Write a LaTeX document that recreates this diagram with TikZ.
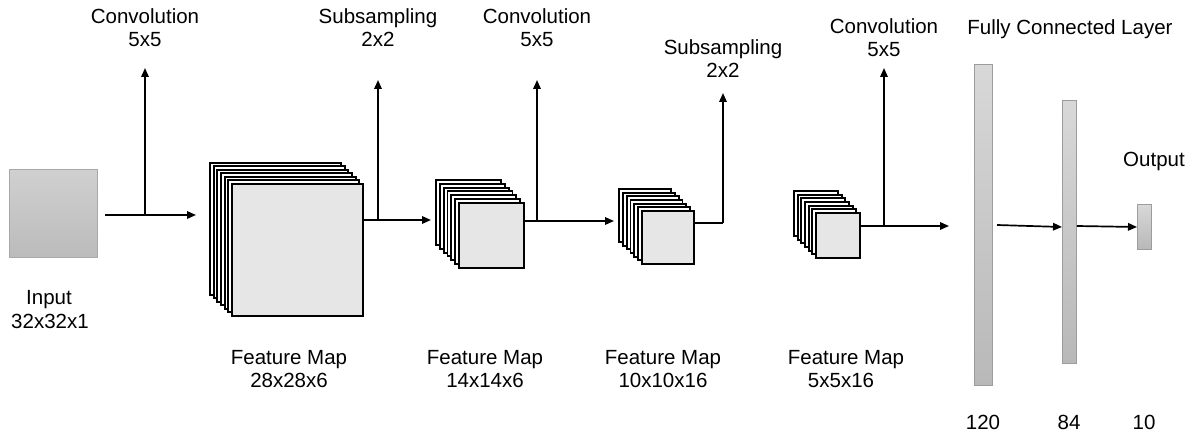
\documentclass[tikz,border=0pt]{standalone}
\usepackage{fontspec}
\setmainfont{Liberation Sans}
\usetikzlibrary{arrows.meta}
\definecolor{frontgray}{HTML}{E6E6E6}
\definecolor{intop}{HTML}{D0D0D0}
\definecolor{inbot}{HTML}{BBBBBB}
\definecolor{inborder}{HTML}{A8A8A8}
\definecolor{fctop}{HTML}{D8D8D8}
\definecolor{fcbot}{HTML}{B8B8B8}
\definecolor{fcborder}{HTML}{9C9C9C}
\tikzset{
  lbl/.style={anchor=base, inner sep=0pt, font=\fontsize{20.5}{23}\selectfont},
  fmback/.style={draw=black, line width=1.9pt, fill=white, inner sep=0pt, anchor=north west},
  fmfront/.style={draw=black, line width=1.9pt, fill=frontgray, inner sep=0pt, anchor=north west},
  inbox/.style={draw=inborder, line width=0.8pt, top color=intop, bottom color=inbot, inner sep=0pt, anchor=north west},
  fcbar/.style={draw=fcborder, line width=0.8pt, top color=fctop, bottom color=fcbot, inner sep=0pt, anchor=north west},
  conn/.style={line width=1.7pt, -{Triangle[length=9pt,width=7.5pt]}},
  plainline/.style={line width=1.7pt},
}
\newcommand{\fmstack}[7]{%
  \foreach \i in {0,...,5} {
    \pgfmathsetmacro\xx{#2+(#4-#2)*\i/6}
    \pgfmathsetmacro\yy{#3+(#5-#3)*\i/6}
    \node[fmback, minimum width=#6pt, minimum height=#7pt] (#1-\i) at (\xx,\yy) {};
  }
  \node[fmfront, minimum width=#6pt, minimum height=#7pt] (#1) at (#4,#5) {};
}
\begin{document}
\begin{tikzpicture}[x=1pt,y=-1pt]
\useasboundingbox[fill=white] (0,0) rectangle (1199,435);

% input
\node[inbox, minimum width=88pt, minimum height=88pt] (in) at (9,169) {};
\node[lbl] (inl1) at (49,305) {Input};
\node[lbl] (inl2) at (50,329) {32x32x1};

% feature map stacks
\fmstack{fm1}{209}{162}{231}{183}{131}{132}
\fmstack{fm2}{435}{179}{458}{202}{65}{65}
\fmstack{fm3}{618}{188}{641}{210}{52}{53}
\fmstack{fm4}{793}{190}{815}{212}{44}{45}

% fully connected bars
\node[fcbar, minimum width=18pt, minimum height=321pt] (fc1) at (974,64) {};
\node[fcbar, minimum width=14pt, minimum height=263pt] (fc2) at (1062,100) {};
\node[fcbar, minimum width=14pt, minimum height=45pt] (out) at (1137,204) {};

% connectors: input -> fm1
\coordinate (s0) at (105,215);
\coordinate (e0) at (196,215);
\coordinate (b0) at (145,215);
\coordinate (t0) at (145,68);
\draw[conn] (s0) -- (e0);
\draw[conn] (b0) -- (t0);

% fm1 -> fm2
\coordinate (s1) at (fm1.east |- 0,220);
\coordinate (e1) at (431,220);
\coordinate (b1) at (378,220);
\coordinate (t1) at (378,80);
\draw[conn] (s1) -- (e1);
\draw[conn] (b1) -- (t1);

% fm2 -> fm3
\coordinate (s2) at (fm2.east |- 0,221);
\coordinate (e2) at (614,221);
\coordinate (b2) at (537,221);
\coordinate (t2) at (537,80);
\draw[conn] (s2) -- (e2);
\draw[conn] (b2) -- (t2);

% fm3 -> fm4
\coordinate (s3) at (fm3.east |- 0,223);
\coordinate (e3) at (723,223);
\coordinate (t3) at (723,93);
\draw[plainline] (s3) -- (e3);
\draw[conn] (e3) -- (t3);

% fm4 -> fc
\coordinate (s4) at (fm4.east |- 0,226);
\coordinate (e4) at (949,226);
\coordinate (b4) at (884,226);
\coordinate (t4) at (884,68);
\draw[conn] (s4) -- (e4);
\draw[conn] (b4) -- (t4);

% fc connectors
\coordinate (s5) at (997,225);
\coordinate (e5) at (fc2.west |- 0,227);
\draw[conn] (s5) -- (e5);
\coordinate (s6) at (fc2.east |- 0,226);
\coordinate (e6) at (out.west |- 0,227);
\draw[conn] (s6) -- (e6);

% top labels
\node[lbl] (c1a) at (145,24) {Convolution};
\node[lbl] (c1b) at (145,47) {5x5};
\node[lbl] (s1a) at (378,24) {Subsampling};
\node[lbl] (s1b) at (378,47) {2x2};
\node[lbl] (c2a) at (537,24) {Convolution};
\node[lbl] (c2b) at (537,47) {5x5};
\node[lbl] (s2a) at (723,55) {Subsampling};
\node[lbl] (s2b) at (723,78) {2x2};
\node[lbl] (c3a) at (884,34) {Convolution};
\node[lbl] (c3b) at (884,57) {5x5};
\node[lbl] (fcl) at (1070,35) {Fully Connected Layer};
\node[lbl] (outl) at (1154,167) {Output};

% bottom labels
\node[lbl] (f1a) at (289,364) {Feature Map};
\node[lbl] (f1b) at (289,388) {28x28x6};
\node[lbl] (f2a) at (485,364) {Feature Map};
\node[lbl] (f2b) at (485,388) {14x14x6};
\node[lbl] (f3a) at (663,364) {Feature Map};
\node[lbl] (f3b) at (663,388) {10x10x16};
\node[lbl] (f4a) at (846,364) {Feature Map};
\node[lbl] (f4b) at (841,388) {5x5x16};
\node[lbl] (n1) at (983,429) {120};
\node[lbl] (n2) at (1069,429) {84};
\node[lbl] (n3) at (1144,429) {10};
\end{tikzpicture}
\end{document}
